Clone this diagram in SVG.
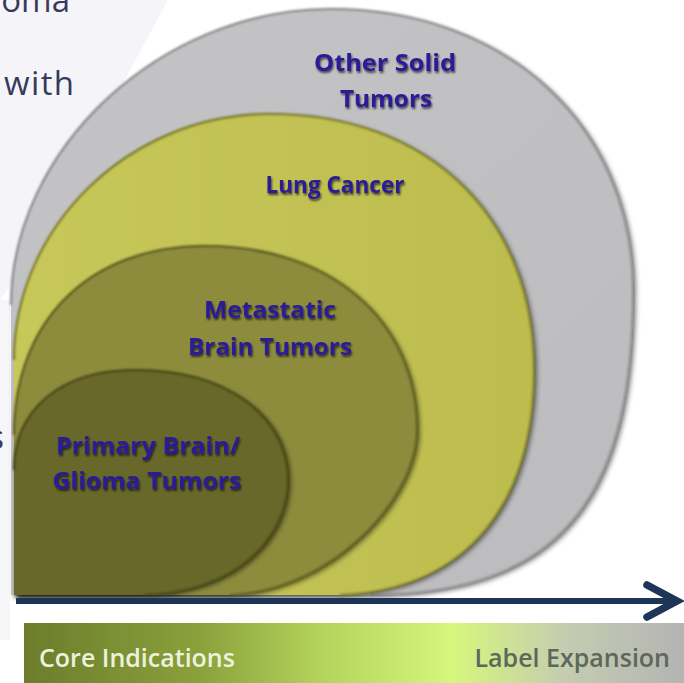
<svg xmlns="http://www.w3.org/2000/svg" width="684" height="683" viewBox="0 0 684 683">
  <defs>
    <style>
      .lbl { font-family: "Open Sans", "Liberation Sans", sans-serif; font-weight: 700; font-size: 24px; fill: #2b1a96; text-anchor: middle; filter: url(#tshadow); }
      .body { font-family: "Open Sans", "Liberation Sans", sans-serif; font-size: 33px; fill: #363b5c; }
      .bar { font-family: "Open Sans", "Liberation Sans", sans-serif; font-weight: 600; font-size: 25px; }
      .rim { fill: none; stroke-width: 2.2; filter: url(#soft); }
      .axis { fill: none; stroke: #1d3658; }
    </style>
    <filter id="drop" x="-10%" y="-10%" width="130%" height="130%">
      <feGaussianBlur in="SourceAlpha" stdDeviation="2.5"/>
      <feOffset dx="2.5" dy="2" result="o"/>
      <feFlood flood-color="#000" flood-opacity="0.5"/>
      <feComposite in2="o" operator="in"/>
      <feMerge><feMergeNode/><feMergeNode in="SourceGraphic"/></feMerge>
    </filter>
    <filter id="soft" x="-5%" y="-5%" width="110%" height="110%">
      <feGaussianBlur stdDeviation="0.9"/>
    </filter>
    <filter id="tshadow" x="-10%" y="-30%" width="120%" height="160%">
      <feGaussianBlur in="SourceAlpha" stdDeviation="1.2"/>
      <feOffset dx="1.2" dy="1.5" result="o"/>
      <feFlood flood-color="#000" flood-opacity="0.65"/>
      <feComposite in2="o" operator="in"/>
      <feMerge><feMergeNode/><feMergeNode in="SourceGraphic"/></feMerge>
    </filter>
    <linearGradient id="barFill" x1="24" y1="0" x2="684" y2="0" gradientUnits="userSpaceOnUse">
      <stop offset="0" stop-color="#6c7c2c"/>
      <stop offset="0.27" stop-color="#8aa23c"/>
      <stop offset="0.45" stop-color="#b4d35c"/>
      <stop offset="0.65" stop-color="#d6f67c"/>
      <stop offset="0.82" stop-color="#c5ccb0"/>
      <stop offset="1" stop-color="#b4b4b4"/>
    </linearGradient>
    <linearGradient id="grayFill" x1="0" y1="0" x2="1" y2="1">
      <stop offset="0" stop-color="#c4c4c6"/>
      <stop offset="1" stop-color="#bcbcbe"/>
    </linearGradient>
    <linearGradient id="lungFill" x1="0" y1="0" x2="1" y2="0">
      <stop offset="0" stop-color="#c7c85a"/>
      <stop offset="1" stop-color="#bdbc4e"/>
    </linearGradient>
  </defs>

  <rect width="684" height="683" fill="#ffffff"/>

  <!-- pale backdrop panels behind the body text -->
  <polygon points="0,0 168,0 26,262 0,300" fill="#f5f5f9"/>
  <rect x="0" y="300" width="10" height="340" fill="#f6f6f9"/>

  <!-- body text running off the left edge -->
  <text class="body" x="70" y="12" text-anchor="end">oma</text>
  <text class="body" x="4" y="95" textLength="70">with</text>
  <text class="body" x="4" y="449" text-anchor="end" font-size="30">s</text>

  <g id="node-other-solid">
    <path d="M11,595 L11,305 C11,150 160,9 331,9 C505,9 633,125 633,290 C633,480 575,595 370,595 Z" fill="url(#grayFill)" filter="url(#drop)"/>
    <path class="rim" d="M11,305 C11,150 160,9 331,9 C505,9 633,125 633,290 C633,480 575,595 370,595" stroke="#8a8a8c"/>
    <text class="lbl" x="385" y="71" textLength="142" lengthAdjust="spacingAndGlyphs">Other Solid</text>
    <text class="lbl" x="386" y="107" textLength="92" lengthAdjust="spacingAndGlyphs">Tumors</text>
  </g>

  <g id="node-lung-cancer">
    <path d="M14,595 L14,360 C14,228 128,114 270,114 C428,114 534,216 534,370 C534,500 470,590 340,595 Z" fill="url(#lungFill)" filter="url(#drop)"/>
    <path class="rim" d="M14,360 C14,228 128,114 270,114 C428,114 534,216 534,370 C534,500 470,590 340,595" stroke="#7d7c2a"/>
    <text class="lbl" x="335" y="193" textLength="139" lengthAdjust="spacingAndGlyphs">Lung Cancer</text>
  </g>

  <g id="node-metastatic">
    <path d="M14,595 L14,435 C14,320 90,246 205,246 C330,246 417,320 417,430 C417,500 330,592 230,595 Z" fill="#8d8c3c" filter="url(#drop)"/>
    <path class="rim" d="M14,435 C14,320 90,246 205,246 C330,246 417,320 417,430 C417,500 330,592 230,595" stroke="#5e5d20"/>
    <text class="lbl" x="270" y="318" textLength="132" lengthAdjust="spacingAndGlyphs">Metastatic</text>
    <text class="lbl" x="270" y="355" textLength="164" lengthAdjust="spacingAndGlyphs">Brain Tumors</text>
  </g>

  <g id="node-primary">
    <path d="M14,595 L14,470 C14,410 60,370 135,370 C225,370 288,415 288,480 C288,535 240,592 145,595 Z" fill="#67682b" filter="url(#drop)"/>
    <path class="rim" d="M14,470 C14,410 60,370 135,370 C225,370 288,415 288,480 C288,535 240,592 145,595" stroke="#464715"/>
    <text class="lbl" x="148" y="454" textLength="184" lengthAdjust="spacingAndGlyphs">Primary Brain/</text>
    <text class="lbl" x="147" y="489" textLength="189" lengthAdjust="spacingAndGlyphs">Glioma Tumors</text>
  </g>

  <g id="connectors">
    <line class="axis" x1="16" y1="601" x2="674" y2="601" stroke-width="6"/>
    <polyline class="axis" points="647,585 677,601 647,617" stroke-width="7.5" stroke-linecap="round" stroke-linejoin="miter"/>
  </g>

  <g id="scale-bar">
    <rect x="24" y="623" width="660" height="60" fill="url(#barFill)"/>
    <text class="bar" x="39" y="667" fill="#eef1dc">Core Indications</text>
    <text class="bar" x="670" y="667" fill="#5c685c" text-anchor="end">Label Expansion</text>
  </g>
</svg>
